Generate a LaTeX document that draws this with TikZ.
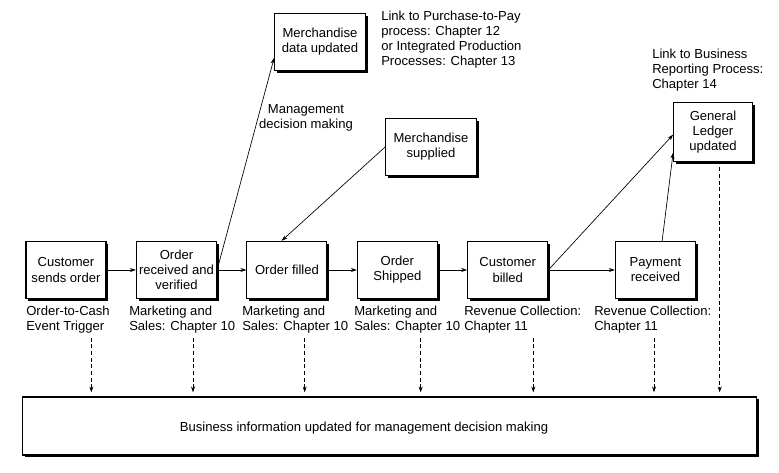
\documentclass[tikz,border=0pt]{standalone}
\usepackage{fontspec}
\setmainfont{Liberation Sans}
\usepackage{tikz}
\usetikzlibrary{arrows.meta, positioning, shadows}

\begin{document}
\begin{tikzpicture}[
    x=0.75pt, y=-0.75pt,
    node distance = 22pt,
    txt/.style = {font=\fontsize{9.8}{11.3}\selectfont},
    base/.style = {
        txt, rectangle, draw=black, line width=0.8pt, fill=white,
        align=center, inner sep=2pt,
        drop shadow={shadow xshift=1.8pt, shadow yshift=-1.8pt, fill=black, opacity=1}
    },
    evt/.style  = {base, minimum width=60pt, minimum height=43pt},
    merch/.style = {base, minimum width=68pt, minimum height=43pt},
    note/.style = {txt, align=left, inner sep=0pt, anchor=north west},
    arr/.style  = {-{Stealth[length=4.5pt, width=3pt]}, line width=0.5pt, black},
    darr/.style = {arr, dashed, dash pattern=on 3pt off 2pt, shorten >=3pt}
]
\useasboundingbox (0,0) rectangle (779,473);

% process steps
\node[evt] at (66,270) (cust) {Customer\\sends order};
\node[evt, right=of cust]   (recv)    {Order\\received and\\verified};
\node[evt, right=of recv]   (filled)  {Order filled};
\node[evt, right=of filled] (shipped) {Order\\Shipped};
\node[evt, right=of shipped] (billed) {Customer\\billed};
\node[evt, right=50pt of billed] (paid) {Payment\\received};

% upper boxes
\node[merch] at (320,42) (mdata) {Merchandise\\data updated};
\node[merch] at (431,147) (msup) {Merchandise\\supplied};
\node[evt, minimum width=59pt, minimum height=44pt] at (713,132) (gl) {General\\Ledger\\updated};

% chapter notes
\node[note] at (26,306)  (trig)  {Order-to-Cash\\Event Trigger};
\node[note] at (129,306) (mk1)   {Marketing and\\Sales: Chapter 10};
\node[note] at (242,306) (mk2)   {Marketing and\\Sales: Chapter 10};
\node[note] at (354,306) (mk3)   {Marketing and\\Sales: Chapter 10};
\node[note] at (464,306) (rc1)   {Revenue Collection:\\Chapter 11};
\node[note] at (594,306) (rc2)   {Revenue Collection:\\Chapter 11};
\node[note] at (381,11)  (p2p)   {Link to Purchase-to-Pay\\process: Chapter 12\\or Integrated Production\\Processes: Chapter 13};
\node[note] at (652,49)  (brp)   {Link to Business\\Reporting Process:\\Chapter 14};
\node[txt, align=center] at (306,118) (mdm) {Management\\decision making};

% bottom box
\node[base, minimum width=551pt, minimum height=43.5pt] at (389.5,426) (info) {};
\node[txt] at (364,428) (infotxt) {Business information updated for management decision making};

% flow
\draw[arr] (cust)    -- (recv);
\draw[arr] (recv)    -- (filled);
\draw[arr] (filled)  -- (shipped);
\draw[arr] (shipped) -- (billed);
\draw[arr] (billed)  -- (paid);
\draw[arr] (recv.east) -- ([yshift=10pt]mdata.south west);
\draw[arr] (msup.west) -- ([xshift=-4pt]filled.north);
\draw[arr] (billed.east) -- ([yshift=-2pt]gl.west);
\draw[arr] ([xshift=5pt]paid.north) -- ([yshift=7pt]gl.south west);

% into the information box
\draw[darr] (trig.south west) ++(49pt,-3pt) coordinate (d1) -- (d1 |- info.north);
\draw[darr] (mk1.south west)  ++(48pt,-3pt) coordinate (d2) -- (d2 |- info.north);
\draw[darr] (mk2.south west)  ++(47pt,-3pt) coordinate (d3) -- (d3 |- info.north);
\draw[darr] (mk3.south west)  ++(50pt,-3pt) coordinate (d4) -- (d4 |- info.north);
\draw[darr] (rc1.south west)  ++(52pt,-3pt) coordinate (d5) -- (d5 |- info.north);
\draw[darr] (rc2.south west)  ++(45pt,-3pt) coordinate (d6) -- (d6 |- info.north);
\draw[darr] (gl.south)        ++(5pt,-4pt)  coordinate (d7) -- (d7 |- info.north);
\end{tikzpicture}
\end{document}
